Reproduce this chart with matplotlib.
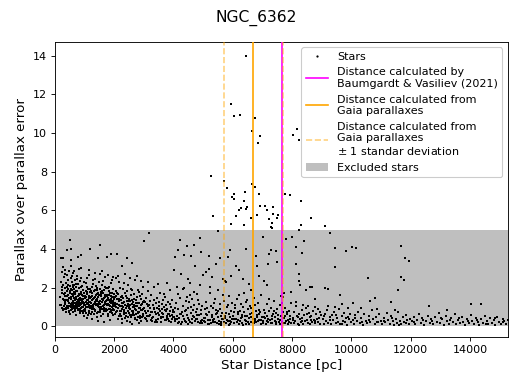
import numpy as np
from matplotlib import pyplot as plt
from matplotlib.patches import Patch
from matplotlib.lines import Line2D

cluster = 'NGC_6362'
bv_dist = 7650.      # Baumgardt & Vasiliev (2021)
gaia_dist = 6690.
gaia_std = 990.
cut = 5.

# (distance [kpc], parallax over error)
near_stars = [
    (0.18,1.52),(0.21,2.31),(0.22,1.12),(0.24,2.78),(0.25,1.85),(0.26,0.95),(0.27,3.05),(0.28,1.41),(0.29,2.12),(0.30,1.68),
    (0.31,0.88),(0.32,2.55),(0.33,1.24),(0.34,1.97),(0.35,2.92),(0.36,1.55),(0.37,0.74),(0.38,2.24),(0.39,1.33),(0.40,1.81),
    (0.41,2.67),(0.42,1.06),(0.43,1.62),(0.44,2.41),(0.45,0.92),(0.46,1.93),(0.47,1.21),(0.48,2.85),(0.49,1.47),(0.50,0.63),
    (0.51,2.08),(0.52,1.71),(0.53,1.15),(0.54,2.49),(0.55,1.38),(0.56,0.82),(0.57,1.89),(0.58,2.26),(0.59,1.02),(0.60,1.58),
    (0.61,2.73),(0.62,1.29),(0.63,0.71),(0.64,1.76),(0.65,2.15),(0.66,1.44),(0.67,0.98),(0.68,2.38),(0.69,1.65),(0.70,1.11),
    (0.71,2.01),(0.72,0.57),(0.73,1.52),(0.74,2.62),(0.75,1.27),(0.76,1.84),(0.77,0.86),(0.78,2.19),(0.79,1.36),(0.80,1.69),
    (0.81,2.94),(0.82,1.04),(0.83,1.95),(0.84,0.67),(0.85,1.48),(0.86,2.33),(0.87,1.18),(0.88,1.77),(0.89,0.93),(0.90,2.51),
    (0.91,1.31),(0.92,1.61),(0.93,2.07),(0.94,0.78),(0.95,1.42),(0.96,1.88),(0.97,1.09),(0.98,2.28),(0.99,1.55),(1.00,0.52),
    (0.19,1.08),(0.23,1.73),(0.26,2.05),(0.29,0.82),(0.31,1.37),(0.34,2.69),(0.36,1.15),(0.39,0.96),(0.41,1.58),(0.43,2.12),
    (0.46,1.29),(0.48,0.79),(0.51,1.47),(0.53,1.92),(0.55,0.99),(0.57,2.58),(0.59,1.66),(0.61,1.13),(0.63,2.04),(0.65,1.22),
    (0.67,1.71),(0.69,0.89),(0.71,1.39),(0.73,2.18),(0.75,0.96),(0.77,1.57),(0.79,1.02),(0.81,1.26),(0.83,1.43),(0.85,0.83),
    (0.87,1.64),(0.89,2.02),(0.91,1.01),(0.93,1.35),(0.95,0.69),(0.97,1.73),(0.99,1.19),(0.54,3.12),(0.66,2.88),(0.88,3.02),
    (0.44,1.05),(0.58,1.21),(0.62,0.93),(0.68,1.33),(0.72,1.82),(0.76,1.14),(0.82,0.88),(0.86,1.11),(0.92,1.22),(0.96,0.98),
]

core_stars = [
    (1.01,1.44),(1.03,0.87),(1.05,2.21),(1.07,1.16),(1.09,1.69),(1.11,0.58),(1.13,1.93),(1.15,1.27),(1.17,2.64),(1.19,0.96),
    (1.21,1.53),(1.23,1.05),(1.25,2.03),(1.27,0.72),(1.29,1.38),(1.31,1.81),(1.33,0.91),(1.35,2.46),(1.37,1.22),(1.39,1.62),
    (1.41,0.47),(1.43,1.97),(1.45,1.09),(1.47,1.49),(1.49,2.31),(1.51,0.83),(1.53,1.31),(1.55,1.76),(1.57,1.01),(1.59,2.12),
    (1.61,0.64),(1.63,1.42),(1.65,1.87),(1.67,0.94),(1.69,1.26),(1.71,2.57),(1.73,0.76),(1.75,1.58),(1.77,1.12),(1.79,1.99),
    (1.81,0.55),(1.83,1.35),(1.85,1.72),(1.87,0.88),(1.89,2.24),(1.91,1.18),(1.93,0.69),(1.95,1.51),(1.97,1.93),(1.99,1.03),
    (1.02,1.12),(1.04,1.83),(1.06,0.69),(1.08,1.34),(1.10,2.47),(1.12,1.01),(1.14,1.57),(1.16,0.81),(1.18,1.92),(1.20,1.24),
    (1.22,0.62),(1.24,1.71),(1.26,1.33),(1.28,2.19),(1.30,0.98),(1.32,1.46),(1.34,0.77),(1.36,1.88),(1.38,1.07),(1.40,2.08),
    (1.42,1.29),(1.44,0.66),(1.46,1.74),(1.48,0.99),(1.50,1.61),(1.52,2.69),(1.54,1.15),(1.56,0.52),(1.58,1.39),(1.60,1.83),
    (1.62,1.05),(1.64,2.36),(1.66,0.78),(1.68,1.63),(1.70,1.21),(1.72,0.91),(1.74,1.96),(1.76,1.37),(1.78,0.61),(1.80,1.48),
    (1.82,2.04),(1.84,1.08),(1.86,0.73),(1.88,1.56),(1.90,1.29),(1.92,2.41),(1.94,0.97),(1.96,1.22),(1.98,0.57),(2.00,1.67),
    (1.01,0.79),(1.04,1.27),(1.06,1.52),(1.09,2.02),(1.12,1.36),(1.14,0.98),(1.17,1.44),(1.19,1.78),(1.22,1.19),(1.24,0.92),
    (1.27,1.58),(1.29,2.41),(1.32,1.13),(1.34,1.25),(1.37,0.86),(1.39,1.07),(1.42,1.66),(1.44,1.41),(1.47,0.73),(1.49,1.18),
    (1.52,1.93),(1.54,0.95),(1.57,1.55),(1.59,1.24),(1.62,1.71),(1.64,0.88),(1.67,1.46),(1.69,2.03),(1.72,1.31),(1.74,0.84),
    (1.77,1.63),(1.79,1.17),(1.82,0.91),(1.84,1.84),(1.87,1.24),(1.89,0.79),(1.92,1.53),(1.94,1.74),(1.97,0.89),(1.99,1.38),
    (1.08,0.42),(1.26,0.35),(1.46,0.29),(1.65,0.22),(1.85,0.31),(1.15,2.91),(1.36,2.76),(1.58,2.84),(1.78,2.67),(1.95,2.55),
]

mid_stars = [
    (2.02,1.21),(2.04,0.64),(2.06,1.83),(2.08,0.98),(2.10,1.42),(2.12,0.37),(2.14,1.67),(2.16,1.09),(2.18,2.28),(2.20,0.81),
    (2.22,1.35),(2.24,0.53),(2.26,1.58),(2.28,1.02),(2.30,1.94),(2.32,0.74),(2.34,1.26),(2.36,0.44),(2.38,1.71),(2.40,0.92),
    (2.42,1.48),(2.44,0.29),(2.46,1.13),(2.48,2.12),(2.50,0.68),(2.52,1.32),(2.54,0.87),(2.56,1.61),(2.58,0.49),(2.60,1.17),
    (2.62,1.89),(2.64,0.77),(2.66,1.38),(2.68,0.58),(2.70,1.04),(2.72,2.37),(2.74,0.83),(2.76,1.52),(2.78,0.34),(2.80,1.21),
    (2.82,0.71),(2.84,1.77),(2.86,0.96),(2.88,0.41),(2.90,1.43),(2.92,0.86),(2.94,1.14),(2.96,2.05),(2.98,0.63),(3.00,1.31),
    (2.01,0.86),(2.03,1.49),(2.05,2.47),(2.07,0.71),(2.09,1.15),(2.11,1.72),(2.13,0.92),(2.15,0.52),(2.17,1.38),(2.19,1.06),
    (2.21,1.97),(2.23,0.76),(2.25,1.19),(2.27,0.35),(2.29,1.45),(2.31,0.97),(2.33,2.21),(2.35,0.62),(2.37,1.11),(2.39,1.54),
    (2.41,0.69),(2.43,1.02),(2.45,1.81),(2.47,0.48),(2.49,0.94),(2.51,1.41),(2.53,0.21),(2.55,1.08),(2.57,1.93),(2.59,0.79),
    (2.61,0.57),(2.63,1.27),(2.65,0.98),(2.67,1.64),(2.69,0.36),(2.71,0.88),(2.73,1.33),(2.75,0.61),(2.77,1.06),(2.79,1.85),
    (2.81,0.47),(2.83,1.18),(2.85,0.74),(2.87,1.56),(2.89,0.93),(2.91,0.27),(2.93,1.68),(2.95,0.82),(2.97,1.24),(2.99,0.54),
    (2.14,2.62),(2.36,2.71),(2.55,2.49),(2.78,2.58),(2.92,2.36),(2.25,0.15),(2.62,0.12),(2.84,0.18),(2.46,1.29),(2.68,1.12),
    (3.02,0.92),(3.04,0.41),(3.06,1.47),(3.08,0.68),(3.10,1.13),(3.12,0.27),(3.14,1.82),(3.16,0.79),(3.18,0.51),(3.20,1.29),
    (3.22,0.96),(3.24,0.33),(3.26,1.61),(3.28,0.72),(3.30,1.08),(3.32,0.45),(3.34,2.04),(3.36,0.87),(3.38,0.19),(3.40,1.21),
    (3.42,0.63),(3.44,1.44),(3.46,0.94),(3.48,0.38),(3.50,1.03),(3.52,0.57),(3.54,1.71),(3.56,0.81),(3.58,0.23),(3.60,1.16),
    (3.62,0.69),(3.64,1.35),(3.66,0.47),(3.68,0.99),(3.70,0.31),(3.72,1.52),(3.74,0.76),(3.76,1.09),(3.78,0.42),(3.80,0.88),
    (3.82,1.24),(3.84,0.26),(3.86,0.64),(3.88,1.87),(3.90,0.53),(3.92,0.97),(3.94,0.36),(3.96,1.33),(3.98,0.71),(4.00,0.49),
    (3.03,1.23),(3.09,0.37),(3.15,1.02),(3.21,0.59),(3.27,0.28),(3.33,1.37),(3.39,0.74),(3.45,0.21),(3.51,1.27),(3.57,0.46),
    (3.63,0.91),(3.69,1.68),(3.75,0.33),(3.81,0.61),(3.87,1.14),(3.93,0.24),(3.99,0.85),(3.13,2.31),(3.47,2.18),(3.79,2.23),
]

outer_stars = [
    (4.02,0.73),(4.05,0.28),(4.08,1.18),(4.11,0.51),(4.14,0.16),(4.17,0.89),(4.20,0.42),(4.23,1.46),(4.26,0.64),(4.29,0.23),
    (4.32,1.02),(4.35,0.37),(4.38,0.78),(4.41,1.29),(4.44,0.19),(4.47,0.57),(4.50,0.93),(4.53,0.31),(4.56,1.61),(4.59,0.66),
    (4.62,0.14),(4.65,0.82),(4.68,0.45),(4.71,1.12),(4.74,0.27),(4.77,0.71),(4.80,0.38),(4.83,1.36),(4.86,0.59),(4.89,0.18),
    (4.92,0.86),(4.95,0.33),(4.98,1.04),
    (4.03,0.49),(4.07,0.96),(4.12,0.35),(4.16,1.67),(4.21,0.61),(4.25,0.11),(4.30,0.74),(4.34,1.91),(4.39,0.29),(4.43,0.83),
    (4.48,0.44),(4.52,1.23),(4.57,0.21),(4.61,0.98),(4.66,0.53),(4.70,1.78),(4.75,0.39),(4.79,0.91),(4.84,0.24),(4.88,1.15),
    (4.93,0.62),(4.97,0.17),(4.46,1.52),(4.64,1.42),(4.81,1.68),(4.13,2.05),(4.37,1.98),(4.55,2.22),(4.91,2.12),
    (5.02,0.41),(5.05,0.88),(5.08,0.19),(5.11,1.27),(5.14,0.56),(5.17,0.12),(5.20,0.74),(5.23,0.33),(5.26,1.05),(5.29,0.47),
    (5.32,0.21),(5.35,0.92),(5.38,0.38),(5.41,1.43),(5.44,0.63),(5.47,0.15),(5.50,0.81),(5.53,0.29),(5.56,1.16),(5.59,0.52),
    (5.62,0.09),(5.65,0.69),(5.68,0.36),(5.71,1.32),(5.74,0.44),(5.77,0.18),(5.80,0.97),(5.83,0.27),(5.86,0.61),(5.89,1.54),
    (5.92,0.13),(5.95,0.77),(5.98,0.39),
    (5.04,0.26),(5.09,0.63),(5.13,0.95),(5.18,0.31),(5.22,1.71),(5.27,0.17),(5.31,0.57),(5.36,1.21),(5.40,0.24),(5.45,0.84),
    (5.49,0.46),(5.54,0.11),(5.58,0.91),(5.63,0.37),(5.67,1.63),(5.72,0.22),(5.76,0.68),(5.81,0.34),(5.85,1.08),(5.90,0.49),
    (5.94,0.19),(5.97,1.19),(5.24,2.05),(5.52,1.88),(5.66,2.44),(5.78,2.27),(5.60,0.06),(5.88,0.07),
    (6.02,0.53),(6.05,0.17),(6.08,0.94),(6.11,0.36),(6.14,1.38),(6.17,0.62),(6.20,0.12),(6.23,0.81),(6.26,0.29),(6.29,1.13),
    (6.32,0.47),(6.35,0.08),(6.38,0.72),(6.41,0.33),(6.44,1.26),(6.47,0.55),(6.50,0.19),(6.53,0.89),(6.56,0.41),(6.59,1.02),
    (6.62,0.24),(6.65,0.66),(6.68,0.14),(6.71,1.47),(6.74,0.38),(6.77,0.79),(6.80,0.21),(6.83,0.58),(6.86,1.19),(6.89,0.31),
    (6.92,0.71),(6.95,0.11),(6.98,0.46),
    (6.04,0.39),(6.09,1.12),(6.13,0.23),(6.18,0.74),(6.22,1.59),(6.27,0.43),(6.31,0.16),(6.36,0.98),(6.40,0.52),(6.45,0.27),
    (6.49,1.35),(6.54,0.13),(6.58,0.61),(6.63,0.92),(6.67,0.35),(6.72,0.18),(6.76,1.08),(6.81,0.49),(6.85,0.26),(6.90,0.84),
    (6.94,1.63),(6.97,0.34),(6.38,1.71),(6.60,1.88),
]

far_stars = [
    (7.02,0.27),(7.05,0.83),(7.08,0.41),(7.11,0.12),(7.14,1.16),(7.17,0.55),(7.20,0.21),(7.23,0.76),(7.26,0.34),(7.29,0.96),
    (7.32,0.16),(7.35,0.62),(7.38,1.31),(7.41,0.29),(7.44,0.48),(7.47,0.09),(7.50,0.87),(7.53,0.37),(7.56,0.19),(7.59,1.07),
    (7.62,0.52),(7.65,0.24),(7.68,0.71),(7.71,0.14),(7.74,0.43),(7.77,0.93),(7.80,0.28),(7.83,0.61),(7.86,0.11),(7.89,0.79),
    (7.92,0.36),(7.95,1.22),(7.98,0.18),
    (7.04,0.47),(7.10,0.68),(7.16,0.26),(7.22,1.41),(7.28,0.18),(7.34,0.39),(7.40,0.81),(7.46,0.23),(7.52,0.58),(7.58,0.33),
    (7.64,1.58),(7.70,0.42),(7.76,0.16),(7.82,0.73),(7.88,0.31),(7.94,0.51),(7.72,1.72),(7.66,1.21),
    (8.02,0.44),(8.05,0.15),(8.08,0.73),(8.11,0.29),(8.14,1.05),(8.17,0.52),(8.20,0.11),(8.23,0.63),(8.26,0.36),(8.29,0.21),
    (8.32,0.84),(8.35,0.41),(8.38,0.13),(8.41,0.58),(8.44,0.27),(8.47,0.96),(8.50,0.34),(8.53,0.17),(8.56,0.69),(8.59,0.45),
    (8.62,0.09),(8.65,0.52),(8.68,0.24),(8.71,0.78),(8.74,0.31),(8.77,0.14),(8.80,0.61),(8.83,0.38),(8.86,0.19),(8.89,0.87),
    (8.92,0.43),(8.95,0.12),(8.98,0.56),(8.12,1.24),(8.36,1.12),(8.55,1.06),(8.79,0.98),(8.25,0.05),
    (9.03,0.39),(9.07,0.13),(9.11,0.64),(9.15,0.27),(9.19,0.82),(9.23,0.18),(9.27,0.47),(9.31,0.09),(9.35,0.58),(9.39,0.33),
    (9.43,0.71),(9.47,0.16),(9.51,0.42),(9.55,0.24),(9.59,0.89),(9.63,0.11),(9.67,0.53),(9.71,0.29),(9.75,0.67),(9.79,0.19),
    (9.83,0.44),(9.87,0.07),(9.91,0.36),(9.95,0.61),(9.99,0.22),(9.21,1.02),(9.45,0.97),(9.69,1.15),(9.88,0.92),
    (10.04,0.31),(10.09,0.12),(10.14,0.57),(10.19,0.26),(10.24,0.73),(10.29,0.17),(10.34,0.44),(10.39,0.08),(10.44,0.63),(10.49,0.29),
    (10.54,0.15),(10.59,0.51),(10.64,0.22),(10.69,0.82),(10.74,0.36),(10.79,0.11),(10.84,0.47),(10.89,0.19),(10.94,0.61),(10.99,0.27),
    (11.04,0.09),(11.09,0.42),(11.14,0.21),(11.19,0.66),(11.24,0.33),(11.29,0.13),(11.34,0.55),(11.39,0.25),(11.44,0.06),(11.49,0.39),
    (11.54,0.17),(11.59,0.71),(11.64,0.28),(11.69,0.12),(11.74,0.46),(11.79,0.21),(11.84,0.58),(11.89,0.31),(11.94,0.10),(11.99,0.37),
    (10.31,0.92),(10.86,0.88),(11.46,0.84),
    (12.04,0.26),(12.10,0.49),(12.16,0.13),(12.22,0.34),(12.28,0.62),(12.34,0.18),(12.40,0.41),(12.46,0.08),(12.52,0.29),(12.58,0.55),
    (12.64,0.16),(12.70,0.38),(12.76,0.11),(12.82,0.47),(12.88,0.23),(12.94,0.66),(13.00,0.14),(13.06,0.35),(13.12,0.07),(13.18,0.52),
    (13.24,0.27),(13.30,0.12),(13.36,0.43),(13.42,0.19),(13.48,0.61),(13.54,0.09),(13.60,0.32),(13.66,0.17),(13.72,0.48),(13.78,0.24),
    (13.84,0.06),(13.90,0.39),(13.96,0.15),(14.02,0.57),(14.08,0.28),(14.14,0.11),(14.20,0.44),(14.26,0.20),(14.32,0.08),(14.38,0.36),
    (14.44,0.16),(14.50,0.51),(14.56,0.25),(14.62,0.10),(14.68,0.42),(14.74,0.18),(14.80,0.31),(14.86,0.07),(14.92,0.46),(14.98,0.22),
    (15.04,0.13),(15.10,0.38),(15.16,0.27),(15.22,0.09),(15.28,0.33),
]

fill_stars = [
    (0.32,1.02),(0.35,1.71),(0.38,0.89),(0.42,2.01),(0.45,1.37),(0.47,0.71),(0.50,1.83),(0.52,1.05),(0.56,1.52),(0.58,0.87),
    (0.60,2.12),(0.62,1.67),(0.64,1.03),(0.66,1.91),(0.68,0.76),(0.70,1.49),(0.72,1.22),(0.74,0.98),(0.76,2.42),(0.78,1.07),
    (0.80,1.21),(0.82,1.63),(0.84,1.35),(0.86,0.74),(0.88,1.38),(0.90,1.16),(0.92,0.81),(0.94,1.58),(0.96,1.27),(0.98,0.85),
    (1.02,1.58),(1.05,0.97),(1.08,1.79),(1.11,1.21),(1.14,0.68),(1.17,1.09),(1.20,1.48),(1.23,1.84),(1.26,0.89),(1.29,1.12),
    (1.32,0.63),(1.35,1.52),(1.38,1.33),(1.41,1.16),(1.44,1.89),(1.47,1.05),(1.50,1.27),(1.53,0.71),(1.56,1.68),(1.59,0.91),
    (1.62,1.33),(1.65,1.12),(1.68,0.84),(1.71,1.49),(1.74,1.17),(1.77,0.82),(1.80,1.13),(1.83,1.61),(1.86,1.02),(1.89,1.42),
    (1.92,0.83),(1.95,1.07),(1.98,1.28),
    (2.03,1.07),(2.07,1.58),(2.11,0.78),(2.15,1.28),(2.19,0.63),(2.23,1.49),(2.27,0.91),(2.31,1.21),(2.35,0.86),(2.39,0.51),
    (2.43,1.29),(2.47,0.77),(2.51,1.06),(2.55,0.59),(2.59,1.33),(2.63,0.69),(2.67,0.97),(2.71,0.42),(2.75,1.18),(2.79,0.67),
    (2.83,0.94),(2.87,0.53),(2.91,1.08),(2.95,0.46),(2.99,0.89),(3.05,0.77),(3.11,0.52),(3.17,1.12),(3.23,0.71),(3.29,0.43),
    (3.35,0.92),(3.41,0.31),(3.47,0.68),(3.53,0.89),(3.59,0.42),(3.65,0.63),(3.71,0.86),(3.77,0.53),(3.83,0.38),(3.89,0.79),
    (3.95,0.58),
    (4.04,0.37),(4.19,0.22),(4.33,0.55),(4.49,0.12),(4.63,0.36),(4.78,0.58),(4.94,0.26),(5.07,0.44),(5.21,0.09),(5.34,0.31),
    (5.48,0.67),(5.61,0.21),(5.75,0.53),(5.91,0.29),(6.06,0.71),(6.19,0.33),(6.33,0.58),(6.46,0.12),(6.61,0.45),(6.75,0.28),
    (6.88,0.63),(7.03,0.14),(7.18,0.38),(7.31,0.51),(7.45,0.67),(7.60,0.13),(7.75,0.55),(7.90,0.22),(8.04,0.31),(8.19,0.48),
    (8.34,0.25),(8.49,0.62),(8.64,0.33),(8.79,0.27),(8.94,0.71),(9.09,0.51),(9.29,0.34),(9.49,0.57),(9.69,0.12),(9.89,0.49),
    (10.11,0.41),(10.36,0.21),(10.61,0.34),(10.86,0.23),(11.11,0.29),(11.36,0.41),(11.61,0.07),(11.86,0.16),(12.13,0.21),(12.43,0.31),
    (12.73,0.26),(13.03,0.43),(13.33,0.31),(13.63,0.41),(13.93,0.27),(14.23,0.33),(14.53,0.11),(14.83,0.42),(15.13,0.19),
]

sparse_stars = [
    (0.20,3.55),(0.28,3.51),(0.41,3.93),(0.52,4.48),(0.53,4.01),(0.56,3.44),(0.79,3.58),(0.88,3.70),(1.18,3.98),(1.46,3.53),
    (1.54,4.18),(1.75,3.60),(1.89,3.72),(2.09,3.72),(2.43,3.55),(2.25,3.12),(2.62,3.25),(3.01,4.41),(3.19,4.82),(4.05,3.58),
    (4.03,2.91),(4.16,3.94),(4.22,4.46),(4.35,3.70),(4.45,4.13),(4.61,3.63),(4.69,4.18),(4.73,3.13),(4.90,4.56),(4.94,3.84),
    (5.20,3.63),(5.43,3.24),(5.49,4.94),(5.57,3.55),(5.74,2.34),(5.85,3.58),(5.90,3.94),(6.11,3.13),(6.44,3.99),(6.79,3.65),
    (6.83,3.10),(6.89,2.58),(7.02,4.60),(7.15,2.12),(7.20,3.24),(7.23,3.75),(7.29,3.96),(7.47,3.89),(7.51,3.30),(7.70,1.53),
    (7.79,4.51),(8.00,4.63),(8.41,4.43),(8.12,4.10),(8.33,3.77),(9.46,4.04),(9.82,3.89),(10.02,4.08),(10.15,4.04),(8.13,3.22),
    (9.46,3.05),(8.24,2.70),(8.24,2.36),(8.26,2.12),(8.46,1.86),(8.61,2.03),(8.66,2.05),(9.11,1.98),(9.20,1.90),(10.55,2.51),
    (7.95,1.76),(9.62,1.62),(8.77,1.41),(10.63,1.29),(10.80,1.45),(10.07,1.19),(11.34,1.24),(11.67,4.13),(11.80,3.53),(11.93,3.36),
    (11.66,2.53),(11.77,2.39),(11.57,1.88),(12.61,1.05),(14.05,1.14),(14.37,1.17),(13.24,0.83),(4.27,2.69),(4.49,2.46),(5.00,2.65),
    (5.09,2.80),(5.19,2.98),(5.95,2.62),(6.35,2.45),(6.55,2.20),(7.05,2.32),(6.20,2.90),(5.30,2.55),
]

high_stars = [
    (6.44,14.00),(5.94,11.50),(6.03,10.86),(6.24,10.93),(6.74,10.80),(6.65,10.10),(6.93,9.83),(6.85,9.49),(8.18,10.20),(8.02,9.90),
    (8.22,9.66),(5.27,7.80),(5.69,7.52),(5.80,7.16),(6.65,7.37),(6.75,7.18),(6.43,6.97),(6.06,6.83),(6.88,6.83),(5.96,6.68),
    (6.03,6.59),(6.39,6.46),(7.75,6.83),(7.92,6.78),(8.30,6.46),(6.29,6.10),(6.20,6.03),(6.44,6.06),(6.48,6.16),(6.91,6.20),
    (7.08,6.20),(7.15,6.00),(7.35,6.15),(5.34,5.70),(6.11,5.70),(6.82,5.75),(6.60,5.58),(7.37,5.79),(7.53,5.73),(7.49,5.58),
    (7.22,5.54),(7.33,5.32),(5.93,5.28),(6.39,5.25),(7.28,5.13),(7.32,5.06),(8.29,5.22),(8.23,4.99),(8.64,5.60),(9.10,5.18),
    (9.29,4.84),
]


def main():
    stars = np.array(near_stars + core_stars + mid_stars + outer_stars
                     + far_stars + fill_stars + sparse_stars + high_stars)
    dist = stars[:, 0] * 1000.
    plx_over_err = stars[:, 1]

    fig = plt.figure(figsize=(6.4, 4.8), dpi=80)
    ax = plt.subplot()
    plt.subplots_adjust(left=0.107, bottom=0.122, right=0.992, top=0.891)

    ax.axhspan(0, cut, color='grey', alpha=0.5, lw=0, zorder=0)
    ax.scatter(dist, plx_over_err, s=3, c='k', marker='s', lw=0, zorder=2)

    ax.axvline(bv_dist, color='magenta', zorder=3)
    ax.axvline(gaia_dist, color='orange', zorder=3)
    ax.axvline(gaia_dist - gaia_std, color='orange', ls='--', alpha=0.5, zorder=3)
    ax.axvline(gaia_dist + gaia_std, color='orange', ls='--', alpha=0.5, zorder=4)

    ax.set_xlim(0, 15280)
    ax.set_ylim(-0.57, 14.72)
    ax.set_xlabel('Star Distance [pc]', fontsize=12)
    ax.set_ylabel('Parallax over parallax error', fontsize=12)
    fig.suptitle(cluster, fontsize=14, y=0.975)

    handles = [
        Line2D([], [], color='k', marker='.', markersize=2, ls=''),
        Line2D([], [], color='magenta'),
        Line2D([], [], color='orange'),
        Line2D([], [], color='orange', ls='--', alpha=0.5),
        Patch(facecolor='grey', alpha=0.5),
    ]
    labels = [
        'Stars',
        'Distance calculated by\nBaumgardt & Vasiliev (2021)',
        'Distance calculated from\nGaia parallaxes',
        'Distance calculated from\nGaia parallaxes\n$\\pm$ 1 standar deviation',
        'Excluded stars',
    ]
    ax.legend(handles, labels, loc='upper right', framealpha=1)
    plt.savefig('out.png', dpi=80)


if __name__ == '__main__':
    main()
